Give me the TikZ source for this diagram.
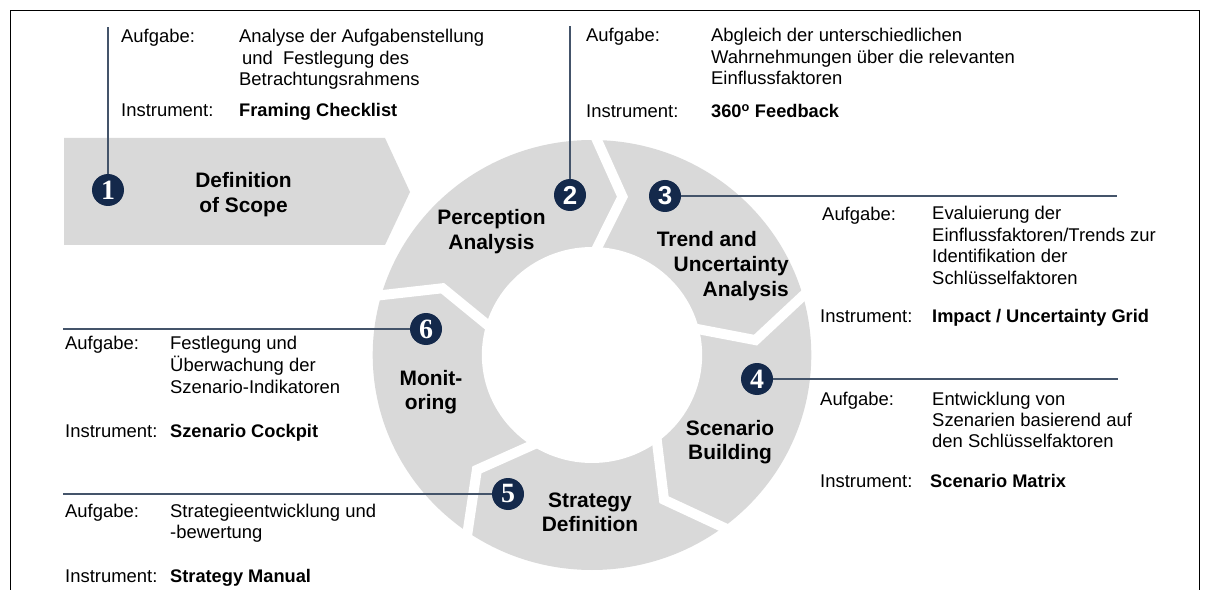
\documentclass[tikz,border=0pt]{standalone}
\usepackage{fontspec}
\setmainfont{Liberation Sans}
\newfontfamily\serifnum{Liberation Serif}
\definecolor{ringgray}{HTML}{D9D9D9}
\definecolor{navy}{HTML}{14294B}
\definecolor{conn}{HTML}{44546A}
\newcommand{\Lines}[2][l]{\begin{tabular}[t]{@{}#1@{}}#2\end{tabular}}
\begin{document}
\begin{tikzpicture}[x=1bp,y=-1bp,
  body/.style={anchor=base west, inner sep=0, font=\fontsize{18.5}{21.5}\selectfont},
  instr/.style={anchor=base west, inner sep=0, font=\fontsize{18.3}{21.5}\selectfont\bfseries},
  phase/.style={anchor=base, inner sep=0, font=\fontsize{21}{25}\selectfont\bfseries},
  badge/.style={circle, fill=navy, text=white, minimum size=32bp, inner sep=0, font=\bfseries\fontsize{26}{26}\selectfont},
  sbadge/.style={badge, font=\serifnum\bfseries\fontsize{28}{28}\selectfont},
  link/.style={draw=conn, line width=1.5bp},
  gap/.style={draw=white, line width=10bp, line join=miter, miter limit=20}]
\useasboundingbox (0,0) rectangle (1205,590);
% frame
\draw[black, line width=1bp] (10,590) -- (10,11) -- (1199,11) -- (1199,590);
% first arrow
\fill[ringgray] (64,138) -- (385,138) -- (410,192) -- (385,245) -- (64,245) -- cycle;
% ring
\begin{scope}[shift={(592,355)}, xscale=1.02]
  \fill[ringgray] (0,0) circle (215);
  \draw[gap] (-90:226) -- (-79.3:161) -- (-90:97);
  \draw[gap] (-17.4:226) -- (-5.3:161) -- (-16.8:97);
  \draw[gap] (51.8:226) -- (64:161) -- (50.1:97);
  \draw[gap] (123.2:226) -- (134.5:161) -- (119:97);
  \draw[gap] (195:226) -- (204.5:161) -- (193.8:97);
  \fill[white] (0,0) circle (108);
\end{scope}
% phase labels
\node[phase] (p1) at (243.5,188) {\Lines[c]{Definition\\of Scope}};
\node[phase] (p2) at (491.5,225) {\Lines[c]{Perception\\Analysis}};
\node[phase, anchor=base east] (p3) at (789,247) {\Lines[r]{Trend and\hspace*{32bp}\\Uncertainty\\Analysis}};
\node[phase] (p4) at (730,435) {\Lines[c]{Scenario\\Building}};
\node[phase] (p5) at (590,507) {\Lines[c]{Strategy\\Definition}};
\node[phase] (p6) at (431,385) {\Lines[c]{Monit-\\oring}};
% badges and connectors
\node[sbadge] (b1) at (108,190) {1};
\node[badge] (b2) at (570,195) {2};
\node[badge] (b3) at (665,196) {3};
\node[sbadge] (b4) at (757,379) {4};
\node[sbadge] (b5) at (508,494) {5};
\node[sbadge] (b6) at (426,329) {6};
\coordinate (e1) at (108,27);
\coordinate (e2) at (570,26);
\coordinate (e3) at (1117,196);
\coordinate (e4) at (1118,379);
\coordinate (e5) at (63,494);
\coordinate (e6) at (63,329);
\draw[link] (b1) -- (e1);
\draw[link] (b2) -- (e2);
\draw[link] (b3) -- (e3);
\draw[link] (b4) -- (e4);
\draw[link] (b5) -- (e5);
\draw[link] (b6) -- (e6);
% block 1
\node[body] (a1) at (121,43) {Aufgabe:};
\node[body] (d1) at (239,43) {\Lines{Analyse der Aufgabenstellung\\\hspace*{3bp}und\ \ Festlegung des\\Betrachtungsrahmens}};
\node[body] (i1) at (121,117) {Instrument:};
\node[instr] (t1) at (239,117) {Framing Checklist};
% block 2
\node[body] (a2) at (586,42) {Aufgabe:};
\node[body] (d2) at (711,42) {\Lines{Abgleich der unterschiedlichen\\Wahrnehmungen über die relevanten\\Einflussfaktoren}};
\node[body] (i2) at (586,118) {Instrument:};
\node[instr] (t2) at (711,118) {360\textsuperscript{o} Feedback};
% block 3
\node[body] (a3) at (822,221) {Aufgabe:};
\node[body] (d3) at (932,220) {\Lines{Evaluierung der\\Einflussfaktoren/Trends zur\\Identifikation der\\Schlüsselfaktoren}};
\node[body] (i3) at (820,323) {Instrument:};
\node[instr] (t3) at (932,323) {Impact / Uncertainty Grid};
% block 4
\node[body] (a4) at (820,405) {Aufgabe:};
\node[body] (d4) at (932,405) {\Lines{Entwicklung von\\Szenarien basierend auf\\den Schlüsselfaktoren}};
\node[body] (i4) at (820,487) {Instrument:};
\node[instr] (t4) at (930,487) {Scenario Matrix};
% block 6
\node[body] (a6) at (65,350) {Aufgabe:};
\node[body] (d6) at (170,350) {\Lines{Festlegung und\\Überwachung der\\Szenario-Indikatoren}};
\node[body] (i6) at (65,437) {Instrument:};
\node[instr] (t6) at (170,437) {Szenario Cockpit};
% block 5
\node[body] (a5) at (65,517) {Aufgabe:};
\node[body] (d5) at (170,517) {\Lines{Strategieentwicklung und\\-bewertung}};
\node[body] (i5) at (65,582) {Instrument:};
\node[instr] (t5) at (170,582) {Strategy Manual};
\end{tikzpicture}
\end{document}
